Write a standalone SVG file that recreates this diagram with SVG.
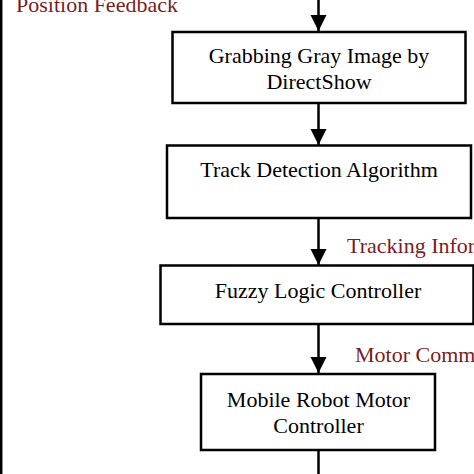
<svg xmlns="http://www.w3.org/2000/svg" width="474" height="474" viewBox="0 0 474 474">
<style>
.box{fill:#fff;stroke:#000;stroke-width:2.5}
.t{font-family:"Liberation Serif","Times New Roman",serif;font-size:22px;fill:#000;text-anchor:middle}
.lbl{font-family:"Liberation Serif","Times New Roman",serif;font-size:22px;fill:#7a1c22}
.ln{stroke:#000;stroke-width:2.5;fill:none}
</style>
<defs>
<marker id="ah" markerUnits="userSpaceOnUse" markerWidth="16" markerHeight="17" refX="16" refY="8" orient="auto">
<path d="M0,0 L16,8 L0,16 Z" fill="#000"/>
</marker>
</defs>
<rect width="474" height="474" fill="#fff"/>
<g id="connectors">
<line class="ln" x1="1.2" y1="0" x2="1.2" y2="474"/>
<line class="ln" x1="318.5" y1="0" x2="318.5" y2="31" marker-end="url(#ah)"/>
<line class="ln" x1="318.5" y1="103" x2="318.5" y2="145" marker-end="url(#ah)"/>
<line class="ln" x1="318.5" y1="218" x2="318.5" y2="265" marker-end="url(#ah)"/>
<line class="ln" x1="318.5" y1="324" x2="318.5" y2="373" marker-end="url(#ah)"/>
<line class="ln" x1="318.5" y1="450" x2="318.5" y2="474"/>
</g>
<g id="label-position-feedback"><text class="lbl" x="16" y="12">Position Feedback</text></g>
<g id="label-tracking"><text class="lbl" x="347" y="253">Tracking Information</text></g>
<g id="label-motor"><text class="lbl" x="355" y="362">Motor Command</text></g>
<g id="node-grab">
<rect class="box" x="172.5" y="32" width="293" height="71"/>
<text class="t" x="319" y="63">Grabbing Gray Image by</text>
<text class="t" x="319" y="89">DirectShow</text>
</g>
<g id="node-track">
<rect class="box" x="167" y="145.5" width="304" height="72.5"/>
<text class="t" x="319" y="177">Track Detection Algorithm</text>
</g>
<g id="node-fuzzy">
<rect class="box" x="160.5" y="265.5" width="313" height="58.5"/>
<text class="t" x="318" y="298">Fuzzy Logic Controller</text>
</g>
<g id="node-motor">
<rect class="box" x="201" y="374" width="234" height="76"/>
<text class="t" x="318.5" y="407">Mobile Robot Motor</text>
<text class="t" x="318.5" y="433">Controller</text>
</g>
</svg>
